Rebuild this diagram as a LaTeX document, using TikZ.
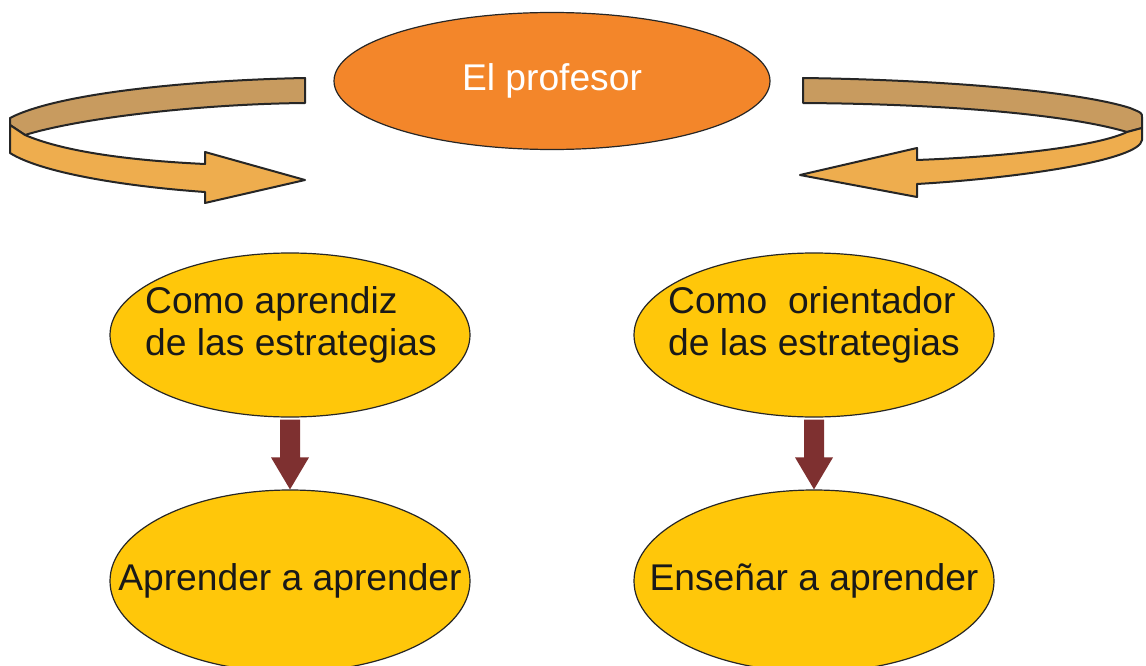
\documentclass[tikz,border=0pt]{standalone}
\usepackage{fontspec}
\setmainfont{Liberation Sans}
\usetikzlibrary{shapes.geometric,calc}
\definecolor{profOrange}{HTML}{F3862A}
\definecolor{gold}{HTML}{FFC70A}
\definecolor{tanband}{HTML}{C89B5F}
\definecolor{bandorange}{HTML}{EEAD4E}
\definecolor{darkred}{HTML}{7E3030}
\tikzset{
  oval/.style={ellipse, draw=black!85, line width=1.2pt, fill=gold, inner sep=0pt, minimum width=360pt, minimum height=164pt},
  txt/.style={font=\fontsize{37.2}{42}\selectfont, text=black!90, inner sep=0pt, align=left},
  band/.style={draw=black!85, line width=2pt, line join=round},
  downarrow/.style={fill=darkred, draw=none}
}
\begin{document}
\begin{tikzpicture}[x=1pt,y=-1pt]
\useasboundingbox (0,0) rectangle (1146,666);
\clip (0,0) rectangle (1146,666);
\fill[white] (0,0) rectangle (1146,666);

% top ellipse
\node[ellipse, draw=black!85, line width=1.2pt, fill=profOrange, minimum width=436pt, minimum height=137pt, inner sep=0pt,
      font=\fontsize{37.2}{42}\selectfont, text=white] (prof) at (552,81) {El profesor};

% left curved arrow
\draw[band, fill=tanband] (305,78) .. controls (200,80) and (60,92) .. (10,118) -- (10,125) -- (25,135)
   .. controls (80,118) and (200,104) .. (305,103) -- cycle;
\draw[band, fill=bandorange] (10,125) -- (10,153) .. controls (40,172) and (120,186) .. (205,192) -- (205,203) -- (305,180) -- (205,152) -- (205,164)
   .. controls (120,160) and (60,150) .. (25,135) -- cycle;

% right curved arrow
\draw[band, fill=tanband] (803,78) .. controls (950,80) and (1080,92) .. (1130,108) .. controls (1142,113) .. (1142,117) -- (1142,128) -- (1127,132)
   .. controls (1070,115) and (950,104) .. (803,103) -- cycle;
\draw[band, fill=bandorange] (1127,132) -- (1142,128) -- (1142,140) .. controls (1140,160) and (1020,178) .. (917,184) -- (917,197) -- (800,175) -- (917,148) -- (917,160)
   .. controls (1020,156) and (1100,145) .. (1127,132) -- cycle;

% middle ellipses
\node[oval] (apr) at (290,335) {};
\node[oval] (ori) at (814,335) {};
\node[txt, anchor=west] (aprtxt) at (145,325) {Como aprendiz\\de las estrategias};
\node[txt, anchor=west] (oritxt) at (668,325) {Como\ \ orientador\\de las estrategias};

% bottom ellipses
\node[oval, minimum height=182pt] (aa) at (290,581) {};
\node[oval, minimum height=182pt] (ea) at (814,581) {};
\node[txt] (aatxt) at (290,581) {Aprender a aprender};
\node[txt] (eatxt) at (814,581) {Enseñar a aprender};

% down arrows
\foreach \s/\t in {apr/aa, ori/ea}{
  \fill[downarrow] ($(\s.south)+(-10,2)$) -- ($(\s.south)+(10,2)$) -- ($(\t.north)+(10,-32)$) -- ($(\t.north)+(19,-32)$)
    -- (\t.north) -- ($(\t.north)+(-19,-32)$) -- ($(\t.north)+(-10,-32)$) -- cycle;
}
\end{tikzpicture}
\end{document}
